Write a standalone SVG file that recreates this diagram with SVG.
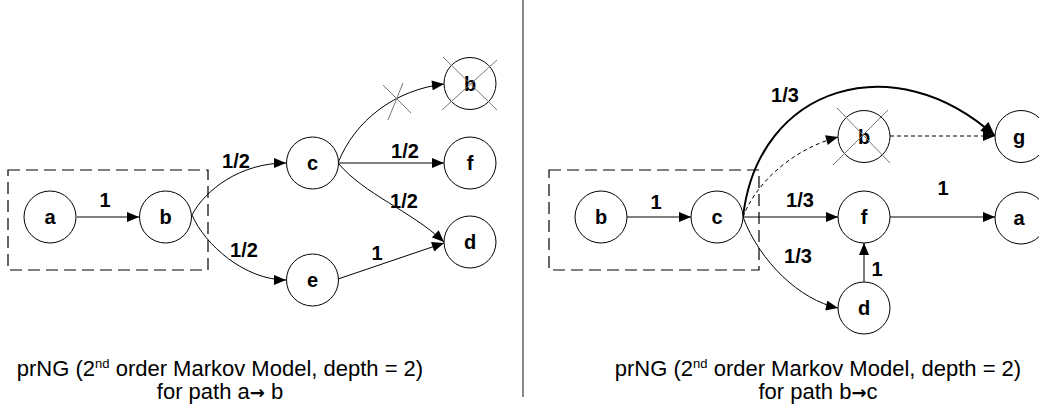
<svg xmlns="http://www.w3.org/2000/svg" width="1039" height="407" viewBox="0 0 1039 407">
<defs>
<marker id="ah" viewBox="0 0 12 10" refX="12" refY="5" markerWidth="13" markerHeight="10" markerUnits="userSpaceOnUse" orient="auto"><path d="M0,0 L12,5 L0,10 Z" fill="#000"/></marker>
<marker id="ahb" viewBox="0 0 12 10" refX="12" refY="5" markerWidth="15" markerHeight="12" markerUnits="userSpaceOnUse" orient="auto"><path d="M0,0 L12,5 L0,10 Z" fill="#000"/></marker>
</defs>
<style>
.node circle{fill:#fff;stroke:#000;stroke-width:1}
.lbl{font-family:"Liberation Sans",Arial,sans-serif;font-weight:bold;font-size:20px;text-anchor:middle;fill:#000}
.nl{font-family:"Liberation Sans",Arial,sans-serif;font-weight:bold;font-size:20px;text-anchor:middle;fill:#000}
.e{fill:none;stroke:#000;stroke-width:1;marker-end:url(#ah)}
.dash{stroke-dasharray:4,3}
.thick{stroke-width:2;marker-end:url(#ahb)}
.box{fill:none;stroke:#000;stroke-width:1.2;stroke-dasharray:12,6}
.x{stroke:#777;stroke-width:1}
.cap{font-family:"Liberation Sans",Arial,sans-serif;font-size:22px;text-anchor:middle;fill:#000}
.arr{font-family:"DejaVu Sans",sans-serif;font-weight:bold}
</style>
<rect width="1039" height="407" fill="#fff"/>
<line x1="523" y1="0" x2="523" y2="397" stroke="#888" stroke-width="2"/>
<rect class="box" x="8" y="170" width="200" height="100"/>
<rect class="box" x="549" y="170" width="210" height="100"/>
<g id="connectors">
<line class="e" x1="77" y1="217" x2="139" y2="217"/>
<path class="e" d="M192,215 C205,190 240,163 286,163"/>
<path class="e" d="M192,215 C205,245 245,280 286,280"/>
<path class="e" d="M338,163 C355,120 395,90 444,84"/>
<line class="x" x1="383" y1="85" x2="411" y2="113"/>
<line class="x" x1="388" y1="120" x2="403" y2="83"/>
<line class="e" x1="338" y1="163" x2="444" y2="163"/>
<path class="e" d="M338,163 C365,195 410,210 444,242"/>
<line class="e" x1="338" y1="279" x2="444" y2="243"/>
<line class="e" x1="627" y1="217" x2="691" y2="217"/>
<line class="e" x1="743" y1="217" x2="838" y2="217"/>
<line class="e" x1="890" y1="217" x2="995" y2="217"/>
<path class="e" d="M743,217 C760,262 800,300 838,308"/>
<line class="e" x1="864" y1="282" x2="864" y2="243"/>
<path class="e dash" d="M743,217 C755,185 790,150 838,137"/>
<line class="e dash" x1="890" y1="136" x2="995" y2="136"/>
<path class="e thick" d="M743,217 C758,85 895,45 995,136"/>
</g>
<g id="node-a1" class="node"><circle cx="50" cy="217" r="26"/><text class="nl" x="50" y="224">a</text></g>
<g id="node-b1" class="node"><circle cx="165.5" cy="217" r="26"/><text class="nl" x="165.5" y="224">b</text></g>
<g id="node-c1" class="node"><circle cx="312.5" cy="163" r="26"/><text class="nl" x="312.5" y="170">c</text></g>
<g id="node-e1" class="node"><circle cx="312.5" cy="280" r="26"/><text class="nl" x="312.5" y="287">e</text></g>
<g id="node-bx1" class="node"><circle cx="470" cy="83.5" r="26"/><text class="nl" x="470" y="90.5">b</text><line class="x" x1="443" y1="57" x2="497" y2="110"/><line class="x" x1="442" y1="110" x2="497" y2="60"/></g>
<g id="node-f1" class="node"><circle cx="470" cy="163" r="26"/><text class="nl" x="470" y="170">f</text></g>
<g id="node-d1" class="node"><circle cx="470" cy="242" r="26"/><text class="nl" x="470" y="249">d</text></g>
<g id="node-b2" class="node"><circle cx="601" cy="217" r="26"/><text class="nl" x="601" y="224">b</text></g>
<g id="node-c2" class="node"><circle cx="717" cy="217" r="26"/><text class="nl" x="717" y="224">c</text></g>
<g id="node-bx2" class="node"><circle cx="864" cy="136.5" r="26"/><text class="nl" x="864" y="143.5">b</text><line class="x" x1="837" y1="108" x2="890" y2="163"/><line class="x" x1="833" y1="165" x2="888" y2="110"/></g>
<g id="node-g2" class="node"><circle cx="1021" cy="136.5" r="26"/><text class="nl" x="1019" y="143.5">g</text></g>
<g id="node-f2" class="node"><circle cx="864" cy="217" r="26"/><text class="nl" x="864" y="224">f</text></g>
<g id="node-a2" class="node"><circle cx="1021" cy="218" r="26"/><text class="nl" x="1019" y="225">a</text></g>
<g id="node-d2" class="node"><circle cx="864" cy="308" r="26"/><text class="nl" x="864" y="315">d</text></g>
<g id="labels">
<text class="lbl" x="105" y="207">1</text>
<text class="lbl" x="236" y="168">1/2</text>
<text class="lbl" x="244" y="257">1/2</text>
<text class="lbl" x="405" y="158">1/2</text>
<text class="lbl" x="404" y="208">1/2</text>
<text class="lbl" x="377" y="260">1</text>
<text class="lbl" x="656" y="209">1</text>
<text class="lbl" x="800" y="207">1/3</text>
<text class="lbl" x="798" y="263">1/3</text>
<text class="lbl" x="943" y="195">1</text>
<text class="lbl" x="877" y="276">1</text>
<text class="lbl" x="785" y="102">1/3</text>
</g>
<text class="cap" x="220" y="376">prNG (2<tspan font-size="13" dy="-8">nd</tspan><tspan dy="8"> order Markov Model, depth = 2)</tspan></text>
<text class="cap" x="220" y="399">for path a<tspan class="arr" font-size="18">→</tspan> b</text>
<text class="cap" x="818" y="376">prNG (2<tspan font-size="13" dy="-8">nd</tspan><tspan dy="8"> order Markov Model, depth = 2)</tspan></text>
<text class="cap" x="818" y="399">for path b<tspan class="arr" font-size="18">→</tspan>c</text>
</svg>
